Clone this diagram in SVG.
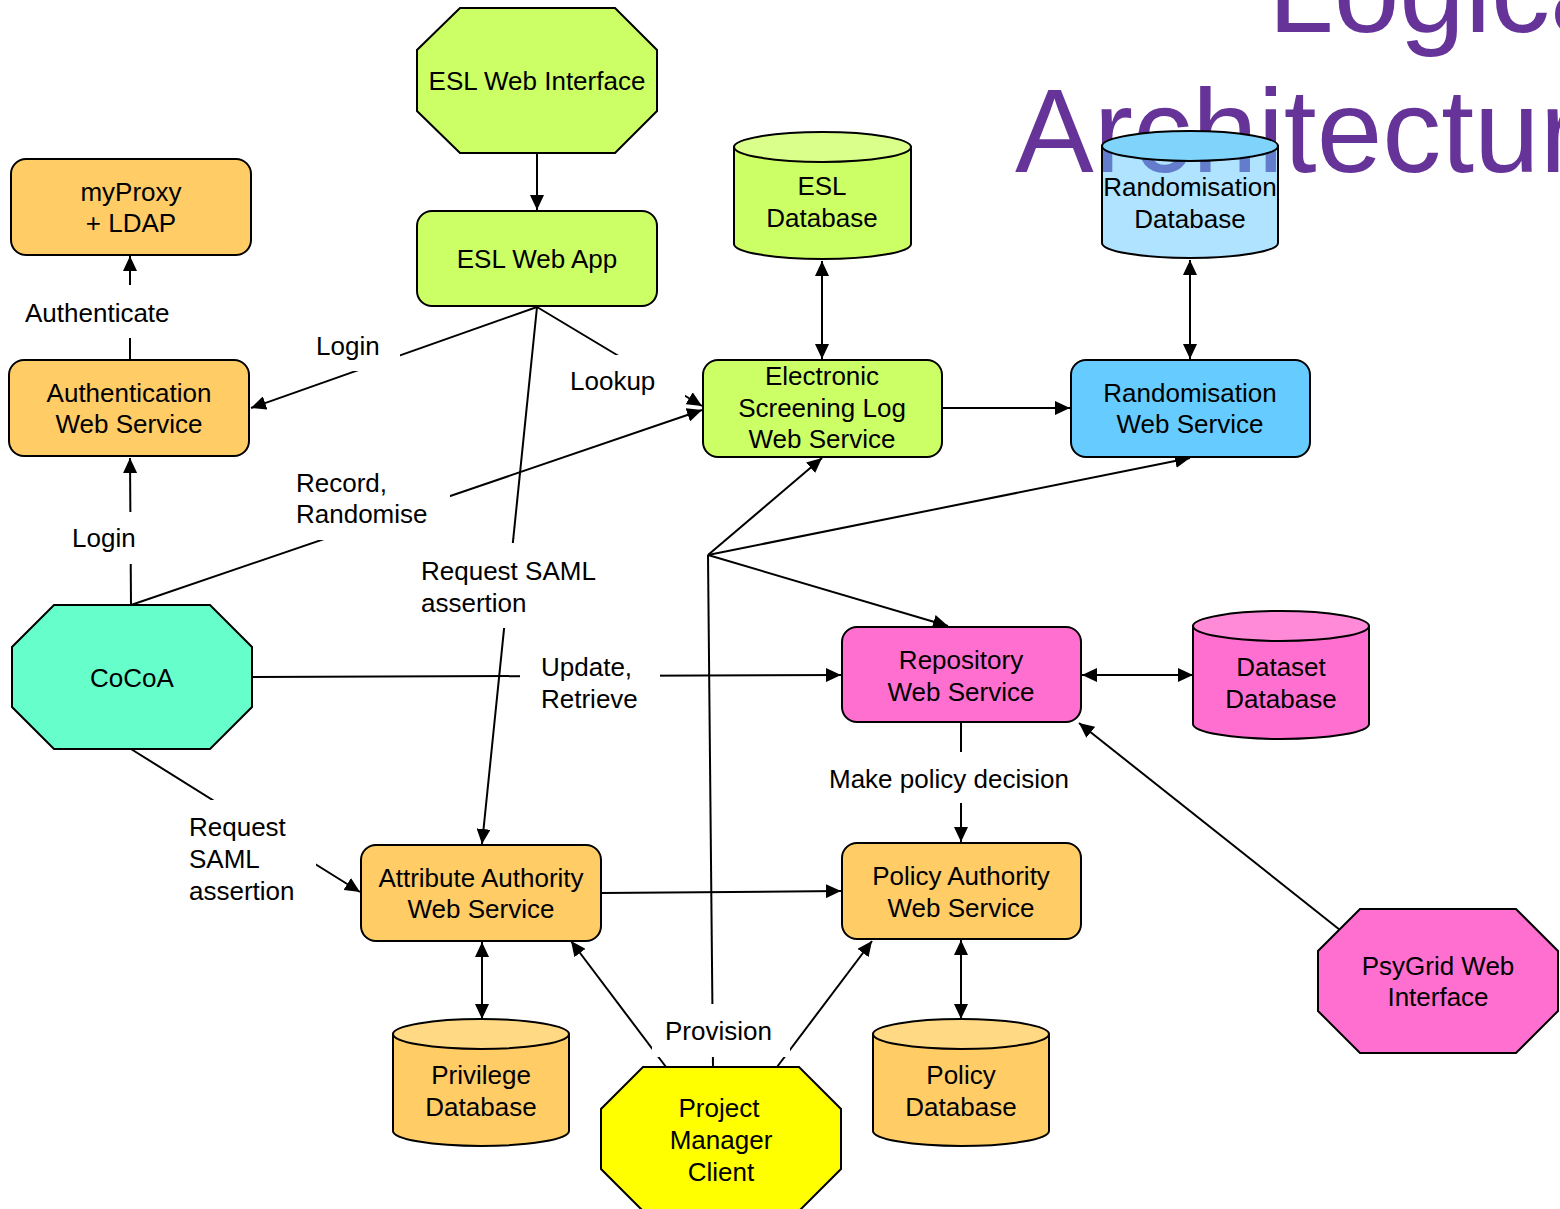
<svg xmlns="http://www.w3.org/2000/svg" width="1560" height="1209" viewBox="0 0 1560 1209">
<style>
text{font-family:"Liberation Sans",Arial,sans-serif;font-size:26px;fill:#000}
.c{text-anchor:middle}
.title{font-size:118px;fill:#663399}
.box{stroke:#000;stroke-width:2}
.ln{stroke:#000;stroke-width:2;fill:none}
.mask{fill:#fff;stroke:none}
.or{fill:#ffcc66}.ort{fill:#ffd983}
.gr{fill:#ccff66}.grt{fill:#daff8a}
.bl{fill:#66ccff}
.pk{fill:#ff6fcf}.pkt{fill:#ff8ad8}
.tl{fill:#66ffcc}
.ye{fill:#ffff00}
</style>
<defs>
<marker id="ah" markerUnits="userSpaceOnUse" markerWidth="16" markerHeight="14" refX="15" refY="7" orient="auto-start-reverse">
<path d="M0,0 L15,7 L0,14 Z" fill="#000"/>
</marker>
</defs>
<rect width="1560" height="1209" fill="#fff"/>
<g id="title">
<text class="title" x="1268" y="32">Logical</text>
<text class="title" x="1015" y="172">Architecture</text>
</g>
<g id="connectors">
<line class="ln" x1="537" y1="153" x2="537" y2="210" marker-end="url(#ah)"/>
<line class="ln" x1="130" y1="360" x2="130" y2="256" marker-end="url(#ah)"/>
<line class="ln" x1="131" y1="605" x2="130" y2="458" marker-end="url(#ah)"/>
<line class="ln" x1="537" y1="307" x2="251" y2="408" marker-end="url(#ah)"/>
<line class="ln" x1="537" y1="307" x2="702" y2="406" marker-end="url(#ah)"/>
<line class="ln" x1="537" y1="307" x2="482" y2="844" marker-end="url(#ah)"/>
<line class="ln" x1="131" y1="605" x2="702" y2="410" marker-end="url(#ah)"/>
<line class="ln" x1="131" y1="749" x2="360" y2="892" marker-end="url(#ah)"/>
<line class="ln" x1="822" y1="261" x2="822" y2="359" marker-start="url(#ah)" marker-end="url(#ah)"/>
<line class="ln" x1="1190" y1="260" x2="1190" y2="359" marker-start="url(#ah)" marker-end="url(#ah)"/>
<line class="ln" x1="943" y1="408" x2="1070" y2="408" marker-end="url(#ah)"/>
<polyline class="ln" points="713,1067 708,555"/>
<line class="ln" x1="708" y1="555" x2="822" y2="458" marker-end="url(#ah)"/>
<line class="ln" x1="708" y1="555" x2="1190" y2="458" marker-end="url(#ah)"/>
<line class="ln" x1="708" y1="555" x2="948" y2="626" marker-end="url(#ah)"/>
<line class="ln" x1="252" y1="677" x2="841" y2="675" marker-end="url(#ah)"/>
<line class="ln" x1="1082" y1="675" x2="1193" y2="675" marker-start="url(#ah)" marker-end="url(#ah)"/>
<line class="ln" x1="961" y1="723" x2="961" y2="842" marker-end="url(#ah)"/>
<line class="ln" x1="1340" y1="930" x2="1079" y2="723" marker-end="url(#ah)"/>
<line class="ln" x1="602" y1="893" x2="841" y2="891" marker-end="url(#ah)"/>
<line class="ln" x1="482" y1="942" x2="482" y2="1019" marker-start="url(#ah)" marker-end="url(#ah)"/>
<line class="ln" x1="961" y1="940" x2="961" y2="1019" marker-start="url(#ah)" marker-end="url(#ah)"/>
<line class="ln" x1="666" y1="1067" x2="571" y2="941" marker-end="url(#ah)"/>
<line class="ln" x1="777" y1="1067" x2="872" y2="941" marker-end="url(#ah)"/>
</g>
<g id="labels">
<rect class="mask" x="20" y="285" width="155" height="53"/>
<text x="25" y="322">Authenticate</text>
<rect class="mask" x="305" y="330" width="95" height="41"/>
<text x="316" y="355">Login</text>
<rect class="mask" x="562" y="355" width="123" height="43"/>
<text x="570" y="390">Lookup</text>
<rect class="mask" x="288" y="462" width="162" height="78"/>
<text x="296" y="492">Record,</text>
<text x="296" y="523">Randomise</text>
<rect class="mask" x="65" y="512" width="75" height="52"/>
<text x="72" y="547">Login</text>
<rect class="mask" x="415" y="543" width="190" height="85"/>
<text x="421" y="580">Request SAML</text>
<text x="421" y="612">assertion</text>
<rect class="mask" x="520" y="648" width="140" height="68"/>
<text x="541" y="676">Update,</text>
<text x="541" y="708">Retrieve</text>
<rect class="mask" x="822" y="752" width="256" height="51"/>
<text x="829" y="788">Make policy decision</text>
<rect class="mask" x="182" y="800" width="134" height="108"/>
<text x="189" y="836">Request</text>
<text x="189" y="868">SAML</text>
<text x="189" y="900">assertion</text>
<rect class="mask" x="652" y="1004" width="138" height="53"/>
<text x="665" y="1040">Provision</text>
</g>
<g id="esl-web-interface">
<polygon class="box gr" points="460,8 615,8 657,50 657,111 615,153 460,153 417,111 417,50"/>
<text class="c" x="537" y="90">ESL Web Interface</text>
</g>
<g id="esl-web-app">
<rect class="box gr" x="417" y="211" width="240" height="95" rx="15"/>
<text class="c" x="537" y="268">ESL Web App</text>
</g>
<g id="myproxy">
<rect class="box or" x="11" y="159" width="240" height="96" rx="15"/>
<text class="c" x="131" y="201">myProxy</text>
<text class="c" x="131" y="232">+ LDAP</text>
</g>
<g id="auth-ws">
<rect class="box or" x="9" y="360" width="240" height="96" rx="15"/>
<text class="c" x="129" y="402">Authentication</text>
<text class="c" x="129" y="433">Web Service</text>
</g>
<g id="esl-db">
<path class="box gr" d="M734,147 L734,244 A88.5,15 0 0 0 911,244 L911,147 Z"/>
<ellipse class="box grt" cx="822.5" cy="147" rx="88.5" ry="15"/>
<text class="c" x="822" y="195">ESL</text>
<text class="c" x="822" y="227">Database</text>
</g>
<g id="rand-db">
<path d="M1102,146 L1102,243 A88,15 0 0 0 1278,243 L1278,146 Z" fill="#60c8ff" fill-opacity="0.5" stroke="#000" stroke-width="2"/>
<ellipse class="box" fill="#80d4fc" cx="1190" cy="146" rx="88" ry="15"/>
<text class="c" x="1190" y="196">Randomisation</text>
<text class="c" x="1190" y="228">Database</text>
</g>
<g id="esl-ws">
<rect class="box gr" x="703" y="360" width="239" height="97" rx="15"/>
<text class="c" x="822" y="385">Electronic</text>
<text class="c" x="822" y="417">Screening Log</text>
<text class="c" x="822" y="448">Web Service</text>
</g>
<g id="rand-ws">
<rect class="box bl" x="1071" y="360" width="239" height="97" rx="15"/>
<text class="c" x="1190" y="402">Randomisation</text>
<text class="c" x="1190" y="433">Web Service</text>
</g>
<g id="cocoa">
<polygon class="box tl" points="54,605 210,605 252,647 252,707 210,749 54,749 12,707 12,647"/>
<text class="c" x="132" y="687">CoCoA</text>
</g>
<g id="repo-ws">
<rect class="box pk" x="842" y="627" width="239" height="95" rx="15"/>
<text class="c" x="961" y="669">Repository</text>
<text class="c" x="961" y="701">Web Service</text>
</g>
<g id="dataset-db">
<path class="box pk" d="M1193,626 L1193,724 A88,15 0 0 0 1369,724 L1369,626 Z"/>
<ellipse class="box pkt" cx="1281" cy="626" rx="88" ry="15"/>
<text class="c" x="1281" y="676">Dataset</text>
<text class="c" x="1281" y="708">Database</text>
</g>
<g id="policy-ws">
<rect class="box or" x="842" y="843" width="239" height="96" rx="15"/>
<text class="c" x="961" y="885">Policy Authority</text>
<text class="c" x="961" y="917">Web Service</text>
</g>
<g id="attr-ws">
<rect class="box or" x="361" y="845" width="240" height="96" rx="15"/>
<text class="c" x="481" y="887">Attribute Authority</text>
<text class="c" x="481" y="918">Web Service</text>
</g>
<g id="privilege-db">
<path class="box or" d="M393,1034 L393,1131 A88,15 0 0 0 569,1131 L569,1034 Z"/>
<ellipse class="box ort" cx="481" cy="1034" rx="88" ry="15"/>
<text class="c" x="481" y="1084">Privilege</text>
<text class="c" x="481" y="1116">Database</text>
</g>
<g id="policy-db">
<path class="box or" d="M873,1034 L873,1131 A88,15 0 0 0 1049,1131 L1049,1034 Z"/>
<ellipse class="box ort" cx="961" cy="1034" rx="88" ry="15"/>
<text class="c" x="961" y="1084">Policy</text>
<text class="c" x="961" y="1116">Database</text>
</g>
<g id="psygrid">
<polygon class="box pk" points="1360,909 1516,909 1558,951 1558,1011 1516,1053 1360,1053 1318,1011 1318,951"/>
<text class="c" x="1438" y="975">PsyGrid Web</text>
<text class="c" x="1438" y="1006">Interface</text>
</g>
<g id="pm-client">
<polygon class="box ye" points="643,1067 799,1067 841,1109 841,1169 799,1211 643,1211 601,1169 601,1109"/>
<text class="c" x="719" y="1117">Project</text>
<text class="c" x="721" y="1149">Manager</text>
<text class="c" x="721" y="1181">Client</text>
</g>
</svg>
